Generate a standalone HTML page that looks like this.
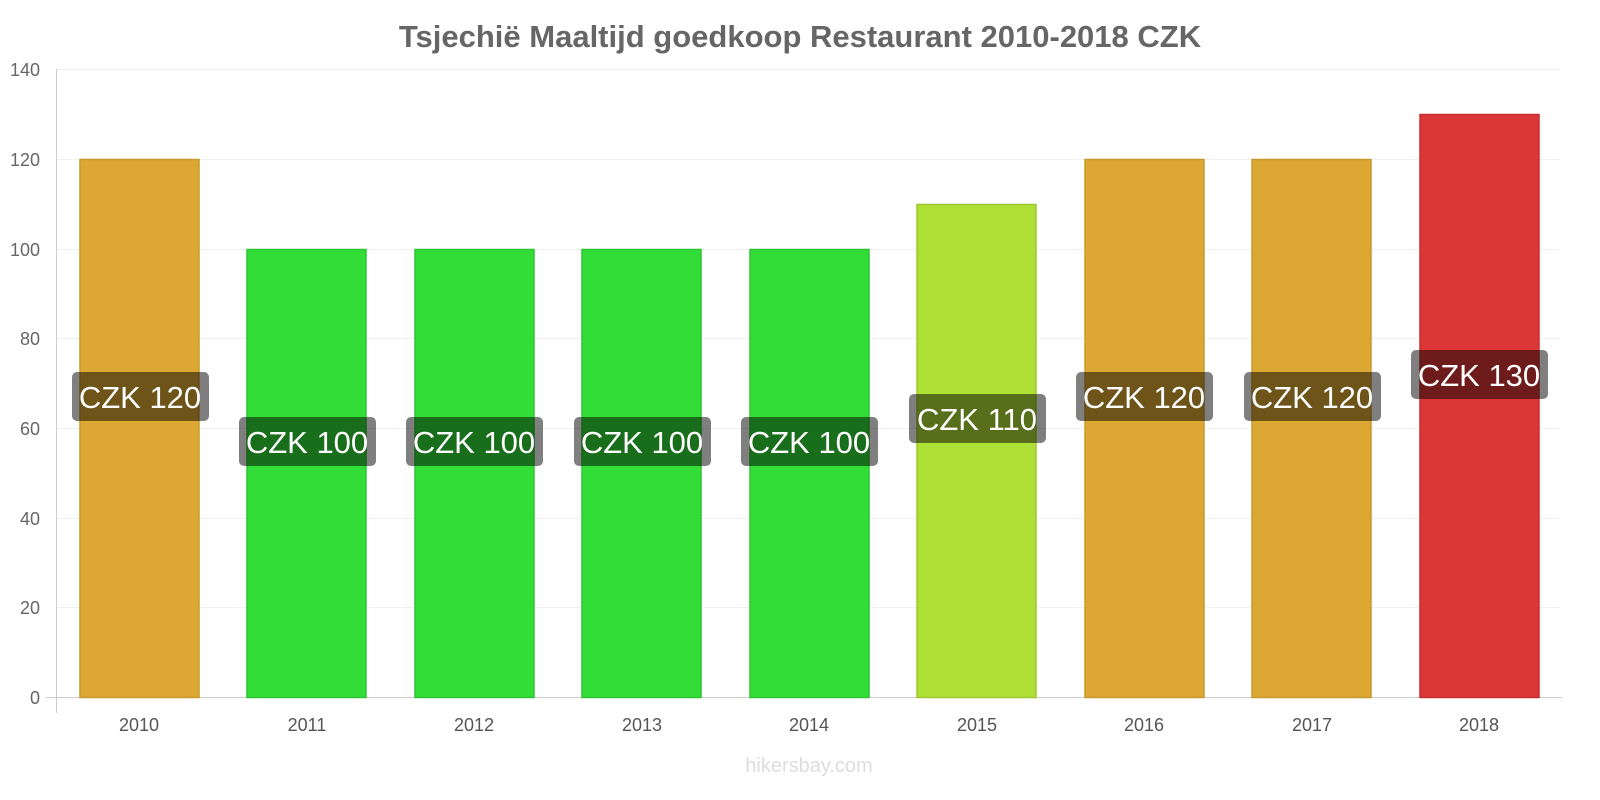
<!DOCTYPE html>
<html><head><meta charset="utf-8"><style>
html,body{margin:0;padding:0;background:#fff;}
svg{display:block;font-family:"Liberation Sans",sans-serif;}
</style></head><body>
<svg width="1600" height="800" viewBox="0 0 1600 800">
<text x="800" y="47" text-anchor="middle" font-size="31" font-weight="bold" fill="#666">Tsjechië Maaltijd goedkoop Restaurant 2010-2018 CZK</text>
<g stroke="#f0f0f0" stroke-width="1">
<line x1="56" y1="69.5" x2="1560" y2="69.5"/>
<line x1="56" y1="159.5" x2="1560" y2="159.5"/>
<line x1="56" y1="249.5" x2="1560" y2="249.5"/>
<line x1="56" y1="338.5" x2="1560" y2="338.5"/>
<line x1="56" y1="428.5" x2="1560" y2="428.5"/>
<line x1="56" y1="518.5" x2="1560" y2="518.5"/>
<line x1="56" y1="607.5" x2="1560" y2="607.5"/>
</g>
<g font-size="18" fill="#666" text-anchor="end">
<text x="40" y="76">140</text><text x="40" y="166">120</text><text x="40" y="256">100</text>
<text x="40" y="345">80</text><text x="40" y="435">60</text><text x="40" y="525">40</text>
<text x="40" y="614">20</text><text x="40" y="704">0</text>
</g>
<g stroke="#ccc"><line x1="56.5" y1="69" x2="56.5" y2="713"/><line x1="46" y1="697.5" x2="1562" y2="697.5"/></g>
<g stroke-width="1.5">
<rect x="80" y="159.5" width="119" height="538" fill="#dca833" stroke="#c8992e"/>
<rect x="247" y="249.5" width="119" height="448" fill="#33dd38" stroke="#2ec433"/>
<rect x="415" y="249.5" width="119" height="448" fill="#33dd38" stroke="#2ec433"/>
<rect x="582" y="249.5" width="119" height="448" fill="#33dd38" stroke="#2ec433"/>
<rect x="750" y="249.5" width="119" height="448" fill="#33dd38" stroke="#2ec433"/>
<rect x="917" y="204.5" width="119" height="493" fill="#aedf34" stroke="#9cc82e"/>
<rect x="1085" y="159.5" width="119" height="538" fill="#dca833" stroke="#c8992e"/>
<rect x="1252" y="159.5" width="119" height="538" fill="#dca833" stroke="#c8992e"/>
<rect x="1420" y="114.5" width="119" height="583" fill="#dc3636" stroke="#c43030"/>
</g>
<g font-size="18" fill="#555" text-anchor="middle">
<text x="139" y="731">2010</text><text x="307" y="731">2011</text><text x="474" y="731">2012</text>
<text x="642" y="731">2013</text><text x="809" y="731">2014</text><text x="977" y="731">2015</text>
<text x="1144" y="731">2016</text><text x="1312" y="731">2017</text><text x="1479" y="731">2018</text>
</g>
<g fill="rgba(0,0,0,0.5)">
<rect x="72" y="372" width="137" height="49" rx="5"/>
<rect x="239" y="417" width="137" height="49" rx="5"/>
<rect x="406" y="417" width="137" height="49" rx="5"/>
<rect x="574" y="417" width="137" height="49" rx="5"/>
<rect x="741" y="417" width="137" height="49" rx="5"/>
<rect x="909" y="394" width="137" height="49" rx="5"/>
<rect x="1076" y="372" width="137" height="49" rx="5"/>
<rect x="1244" y="372" width="137" height="49" rx="5"/>
<rect x="1411" y="350" width="137" height="49" rx="5"/>
</g>
<g font-size="31" fill="#fff" text-anchor="middle">
<text x="140" y="408">CZK 120</text>
<text x="307" y="453">CZK 100</text>
<text x="474" y="453">CZK 100</text>
<text x="642" y="453">CZK 100</text>
<text x="809" y="453">CZK 100</text>
<text x="977" y="430">CZK 110</text>
<text x="1144" y="408">CZK 120</text>
<text x="1312" y="408">CZK 120</text>
<text x="1479" y="386">CZK 130</text>
</g>
<text x="809" y="772" text-anchor="middle" font-size="20" fill="#ddd">hikersbay.com</text>
</svg>
</body></html>
